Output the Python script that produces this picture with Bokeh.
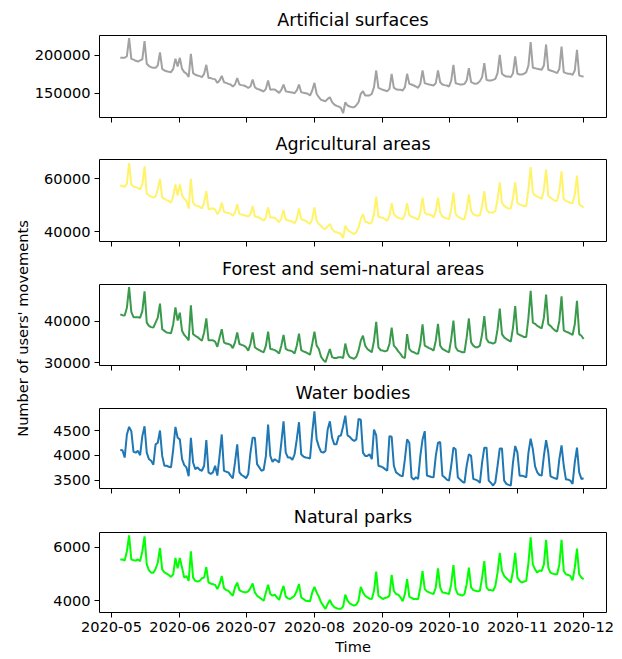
import pandas as pd
from bokeh.plotting import figure
from bokeh.layouts import column, row
from bokeh.models import (Range1d, FixedTicker, NumeralTickFormatter, DatetimeTickFormatter,
                          CustomLabelingPolicy, Label)
from bokeh.embed import file_html
from bokeh.resources import INLINE

start_date = "2020-05-05"
month_ticks = ["2020-05-01", "2020-06-01", "2020-07-01", "2020-08-01",
               "2020-09-01", "2020-10-01", "2020-11-01", "2020-12-01"]

artificial = [
    197000, 197000, 197000, 199000, 223000, 195500, 194500,
    193000, 192000, 193500, 195000, 219000, 189000, 186000,
    184500, 183600, 183600, 187000, 204000, 182300, 180100,
    179200, 178300, 177900, 182300, 195600, 185400, 196900,
    182300, 177900, 176000, 171500, 202200, 176600, 174400,
    173500, 172600, 171300, 175700, 187600, 170000, 170000,
    169000, 168600, 163700, 166800, 173000, 164600, 163700,
    162400, 161500, 158900, 161500, 170000, 161500, 160700,
    160200, 158900, 157100, 158900, 168200, 158000, 155800,
    154900, 153600, 152300, 155800, 166800, 154500, 154900,
    154900, 152700, 150500, 154500, 161500, 152700, 151800,
    151400, 150900, 150000, 153600, 161500, 151400, 150500,
    150000, 149200, 147000, 153600, 163700, 149200, 144700,
    141200, 140300, 139400, 142500, 144700, 138100, 135000,
    133200, 132400, 130600, 123500, 138100, 133700, 132400,
    131500, 131500, 134100, 138000, 149200, 152700, 147000,
    147000, 147000, 149200, 158000, 180100, 157100, 155800,
    154500, 153600, 152700, 155800, 175700, 157100, 155300,
    154500, 154500, 153600, 158000, 175700, 162400, 161500,
    160200, 158900, 157100, 162400, 180100, 163300, 162400,
    161500, 161000, 160200, 163300, 180100, 164600, 161500,
    160700, 160200, 158900, 166800, 187600, 163300, 162400,
    161500, 161500, 162400, 166800, 183200, 164600, 163300,
    162400, 163300, 166000, 171300, 189800, 167700, 166800,
    166800, 167700, 169000, 176600, 200900, 175700, 173500,
    172100, 172100, 171300, 176600, 198700, 175700, 174800,
    174800, 175700, 177900, 186700, 217700, 183600, 183200,
    182300, 181800, 181000, 186700, 214600, 181000, 180100,
    179200, 177900, 176600, 182300, 211900, 177900, 176600,
    175700, 175700, 174400, 180100, 207500, 173500, 172600,
    172100,
]

agricultural = [
    57500, 57100, 56900, 58000, 65800, 57800, 56900,
    56800, 56500, 55900, 57800, 64600, 54400, 53700,
    53200, 52800, 53200, 55900, 59900, 52800, 52400,
    51900, 51600, 50900, 53400, 57800, 53700, 57800,
    53700, 52400, 51600, 48700, 59900, 50900, 49900,
    49700, 49400, 48700, 50900, 55300, 48400, 48700,
    48700, 48400, 46600, 47800, 50900, 47500, 47200,
    47000, 46800, 46000, 47200, 50300, 46600, 46500,
    46200, 46000, 45700, 46600, 49700, 45700, 45500,
    45300, 44700, 44100, 45300, 49100, 45300, 45300,
    45200, 44500, 43500, 45000, 48200, 44500, 44200,
    44100, 43700, 43200, 44700, 48700, 44700, 44400,
    44100, 43500, 42900, 44700, 49100, 44100, 42900,
    42200, 41200, 41000, 42000, 42900, 41000, 40000,
    39800, 39500, 39100, 37600, 42200, 40700, 40000,
    39500, 39100, 39800, 41600, 44700, 46600, 43700,
    43500, 43000, 43500, 46600, 53200, 45700, 45300,
    45200, 44700, 44100, 46000, 50700, 46600, 45700,
    45200, 45000, 44700, 46600, 50700, 46200, 45700,
    45300, 45000, 44500, 47200, 52800, 47200, 46500,
    46500, 46200, 45300, 47800, 52800, 47200, 45700,
    45300, 45000, 44700, 48400, 54700, 46600, 45700,
    45200, 44700, 44700, 48400, 54000, 47800, 46600,
    46200, 46000, 46200, 49700, 55300, 48400, 47200,
    47200, 47200, 47800, 52200, 58600, 50900, 49700,
    49100, 48700, 48700, 52800, 58600, 50900, 50300,
    49900, 49700, 49700, 55900, 64300, 54700, 53700,
    53200, 52800, 52400, 55900, 63400, 53400, 52800,
    52200, 51600, 51600, 55300, 62700, 52200, 51600,
    51200, 50900, 50700, 54000, 61100, 50300, 49700,
    49100,
]

forest = [
    41700, 41500, 41400, 43300, 48300, 42300, 41000,
    41000, 41000, 40900, 42500, 47300, 39700, 38900,
    38600, 38500, 39700, 40900, 44300, 38100, 37700,
    37300, 37200, 37100, 39300, 43400, 40200, 42100,
    37700, 36700, 36100, 35400, 43900, 36900, 36500,
    36200, 35700, 35300, 37300, 40700, 35400, 35400,
    35400, 35100, 33800, 36100, 38100, 34900, 34600,
    34500, 34300, 33500, 34900, 37300, 34500, 34300,
    34100, 33700, 32900, 34500, 37300, 33700, 33300,
    33000, 32700, 32500, 34100, 37500, 33300, 33200,
    33000, 32700, 32200, 34100, 36700, 33300, 33000,
    32900, 32700, 32200, 34100, 37000, 33000, 32700,
    32500, 32200, 31900, 34500, 37500, 34100, 33300,
    31400, 30600, 30100, 31700, 33300, 31300, 31100,
    31100, 31300, 31300, 31100, 34600, 32200, 31300,
    31100, 30900, 31400, 32900, 35300, 36500, 34100,
    33300, 32900, 32500, 35300, 39900, 33700, 33000,
    32900, 32700, 32900, 34500, 38500, 34100, 33500,
    32700, 32100, 31300, 31100, 36900, 33300, 32700,
    32500, 32200, 32100, 34500, 39300, 34100, 33800,
    33500, 33300, 32900, 35300, 39400, 34100, 33300,
    33000, 32700, 32500, 35700, 40200, 33700, 32900,
    32700, 32500, 32500, 36100, 40700, 34900, 34100,
    33700, 33700, 34100, 36900, 41300, 35700, 34900,
    34800, 34600, 34900, 38100, 43100, 36900, 36100,
    35700, 35400, 35100, 38500, 43700, 37000, 36700,
    36500, 36200, 36200, 40900, 47400, 39700, 39400,
    38900, 38600, 38300, 40900, 46500, 39300, 38900,
    38300, 37800, 37500, 40100, 46100, 37800, 37500,
    37300, 37000, 36700, 39300, 45000, 36900, 36500,
    35700,
]

water = [
    4110, 4103, 3957, 4420, 4573, 4487, 4070,
    4056, 4090, 4004, 4387, 4586, 4056, 3924,
    3891, 3812, 4222, 4255, 4500, 3990, 3792,
    3792, 3772, 3759, 4123, 4573, 4354, 4321,
    3924, 3805, 3759, 3580, 4354, 3858, 3725,
    3759, 3712, 3692, 3792, 4308, 3659, 3626,
    3659, 3792, 3593, 3990, 4421, 3692, 3673,
    3659, 3593, 3540, 3858, 4222, 3659, 3606,
    3580, 3540, 3626, 4056, 4354, 4354, 3825,
    3759, 3692, 3712, 3990, 4619, 3990, 3871,
    3924, 3891, 3858, 4255, 4685, 4056, 3957,
    3957, 3911, 4023, 4321, 4666, 4023, 3977,
    3957, 3951, 3937, 4454, 4884, 4321, 4176,
    4070, 4056, 4090, 4520, 4685, 4354, 4222,
    4222, 4387, 4401, 4586, 4798, 4401, 4374,
    4321, 4288, 4321, 4732, 4718, 4056, 3990,
    3990, 4023, 3924, 4520, 4401, 3792, 3778,
    3759, 3725, 3692, 4387, 4374, 3792, 3659,
    3626, 3593, 3580, 3924, 4321, 4255, 3560,
    3514, 3560, 3527, 3990, 4321, 4487, 3593,
    3580, 3566, 3560, 3990, 4255, 4268, 3593,
    3560, 3514, 3494, 3792, 4156, 4123, 3560,
    3514, 3474, 3447, 3792, 4023, 3990, 3527,
    3514, 3494, 3447, 3858, 4156, 4156, 3494,
    3447, 3394, 3461, 3792, 4136, 4136, 3494,
    3428, 3408, 3394, 3858, 4189, 4056, 3593,
    3593, 3580, 3560, 4056, 4334, 4123, 3778,
    3659, 3606, 3593, 3990, 4308, 4056, 3580,
    3560, 3540, 3527, 3924, 4202, 3792, 3514,
    3514, 3494, 3428, 3858, 4156, 3659, 3527,
    3540,
]

parks = [
    5546, 5546, 5509, 5853, 6442, 5546, 5521,
    5509, 5546, 5485, 5853, 6405, 5362, 5141,
    5055, 5055, 5190, 5423, 5975, 5178, 5067,
    5018, 4969, 4896, 4994, 5607, 5215, 5607,
    5239, 4871, 4933, 4748, 5853, 4871, 4748,
    4724, 4748, 4847, 4871, 5264, 4687, 4650,
    4626, 4601, 4442, 4626, 4933, 4478, 4405,
    4380, 4282, 4196, 4503, 4687, 4405, 4356,
    4331, 4319, 4356, 4478, 4650, 4319, 4196,
    4135, 4074, 4012, 4319, 4601, 4258, 4196,
    4233, 4135, 4037, 4319, 4564, 4160, 4098,
    4074, 4135, 4196, 4380, 4626, 4135, 4074,
    4012, 4000, 3988, 4319, 4528, 4319, 4160,
    3951, 3828, 3706, 3890, 4037, 3865, 3767,
    3730, 3706, 3706, 3791, 4233, 4012, 3914,
    3865, 3828, 3865, 4012, 4528, 4319, 4196,
    4135, 4086, 4074, 4380, 5092, 4196, 4135,
    4074, 4110, 4135, 4196, 4969, 4380, 4258,
    4233, 4135, 3988, 4258, 4810, 4160, 4110,
    4074, 4074, 4074, 4503, 5117, 4442, 4356,
    4319, 4282, 4258, 4503, 5215, 4503, 4319,
    4307, 4282, 4258, 4626, 5337, 4442, 4258,
    4233, 4196, 4258, 4626, 5239, 4503, 4405,
    4380, 4356, 4380, 4871, 5485, 4503, 4405,
    4405, 4380, 4564, 5055, 5791, 5117, 4933,
    4847, 4773, 4687, 5117, 5791, 4871, 4748,
    4687, 4724, 4748, 5423, 6368, 5362, 5178,
    5055, 5141, 5117, 5362, 6282, 5239, 5055,
    5018, 4994, 4994, 5362, 6282, 5117, 4994,
    4969, 4933, 4773, 5239, 5951, 4994, 4871,
    4810,
]

titles = ["Artificial surfaces", "Agricultural areas", "Forest and semi-natural areas",
          "Water bodies", "Natural parks"]
series = [artificial, agricultural, forest, water, parks]
y_ticks = [[150000, 200000], [40000, 60000], [30000, 40000], [3500, 4000, 4500], [4000, 6000]]
y_limits = [(117800, 226500), (36280, 67200), (29280, 48950), (3335, 4942), (3570, 6552)]
colors = ["#a2a2a2", "#fff36a", "#3a9a4c", "#1f77b4", "#00ff00"]
y_label_text = "Number of users' movements"

FONT = "DejaVu Sans"
frame_heights = [82, 83, 82, 81, 81]
tops = [35, 32, 32, 32, 32]
bottoms = [9, 10, 10, 11, 46]
TOTAL_H = sum(frame_heights) + sum(tops) + sum(bottoms)
STRIP_W = 31

dates = pd.date_range(start_date, periods=len(artificial), freq="D")
x_range = Range1d(pd.Timestamp("2020-04-25 14:00"), pd.Timestamp("2020-12-11 09:00"))
tick_ms = [pd.Timestamp(t).timestamp() * 1000 for t in month_ticks]

hide_labels = CustomLabelingPolicy(code="""
for (let i = 0; i < indices.size; i++) { indices.unset(i) }
return indices
""")

figs = []
for i in range(5):
    h = frame_heights[i] + tops[i] + bottoms[i]
    p = figure(width=622 - STRIP_W, height=h, x_axis_type="datetime", x_range=x_range,
               y_range=Range1d(*y_limits[i]), output_backend="svg", toolbar_location=None,
               min_border_left=97 - STRIP_W, min_border_right=16, min_border_top=tops[i],
               min_border_bottom=bottoms[i], title=titles[i])
    p.line(dates, series[i], line_color=colors[i], line_width=2)
    p.title.align = "center"
    p.title.text_font = FONT
    p.title.text_font_size = "17.5px"
    p.title.text_font_style = "normal"
    p.title.text_color = "black"
    p.title.standoff = 11
    p.xgrid.visible = False
    p.ygrid.visible = False
    p.outline_line_color = "black"
    p.outline_line_alpha = 1
    p.outline_line_width = 1
    p.background_fill_color = "white"
    p.border_fill_color = "white"
    for ax in (p.xaxis[0], p.yaxis[0]):
        ax.axis_line_color = None
        ax.major_tick_line_color = "black"
        ax.major_tick_out = 5
        ax.major_tick_in = 0
        ax.minor_tick_line_color = None
        ax.major_label_text_font = FONT
        ax.major_label_text_font_size = "14.6px"
        ax.major_label_text_color = "black"
        ax.major_label_standoff = 4
    p.yaxis[0].ticker = FixedTicker(ticks=y_ticks[i])
    p.yaxis[0].formatter = NumeralTickFormatter(format="0")
    p.xaxis[0].ticker = FixedTicker(ticks=tick_ms)
    p.xaxis[0].formatter = DatetimeTickFormatter(days="%Y-%m", months="%Y-%m", years="%Y-%m",
                                                 hours="%Y-%m", minutes="%Y-%m")
    if i < 4:
        # tick marks only: the shared date labels are shown on the bottom panel
        p.xaxis[0].major_label_policy = hide_labels
        p.xaxis[0].major_label_text_font_size = "1px"
        p.xaxis[0].major_label_standoff = 0
    else:
        p.xaxis[0].major_label_standoff = 4
        p.xaxis[0].axis_label = "Time"
        p.xaxis[0].axis_label_standoff = 3
        p.xaxis[0].axis_label_text_font = FONT
        p.xaxis[0].axis_label_text_font_size = "14.6px"
        p.xaxis[0].axis_label_text_font_style = "normal"
        p.xaxis[0].axis_label_text_color = "black"
    figs.append(p)

# narrow strip on the left carrying the shared y-axis label
lab = figure(width=STRIP_W, height=TOTAL_H, x_range=Range1d(0, STRIP_W), y_range=Range1d(0, TOTAL_H),
             output_backend="svg", toolbar_location=None, min_border=0,
             x_axis_location=None, y_axis_location=None)
lab.outline_line_color = None
lab.xgrid.visible = False
lab.ygrid.visible = False
lab.background_fill_color = "white"
lab.border_fill_color = "white"
lab.add_layout(Label(x=22, y=TOTAL_H - 328, text=y_label_text, angle=90, angle_units="deg",
                     text_align="center", text_baseline="middle", text_font=FONT,
                     text_font_size="14.6px", text_color="black"))

layout = row(lab, column(*figs, spacing=0), spacing=0)
open("out.html", "w").write(file_html(layout, INLINE))
